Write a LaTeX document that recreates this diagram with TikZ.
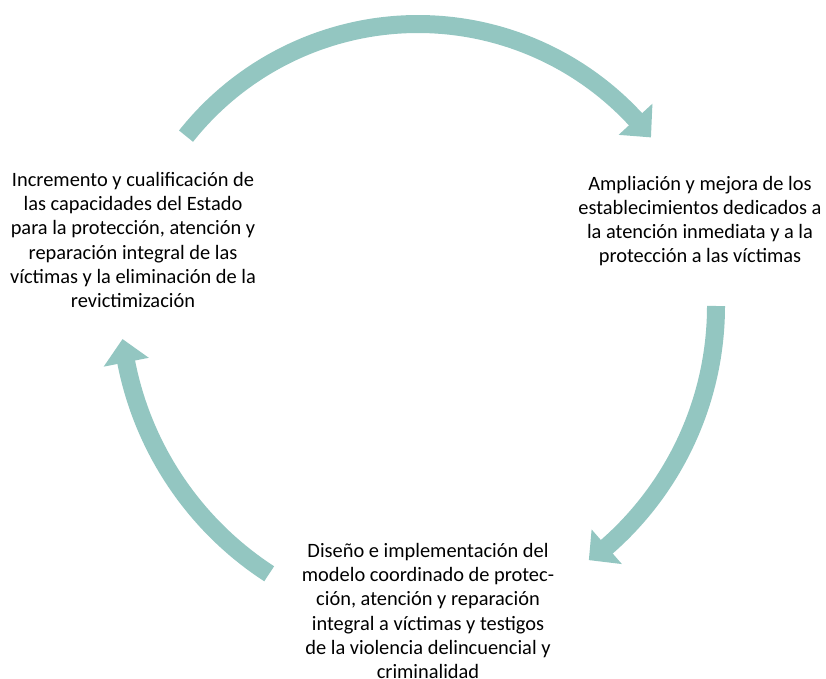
\documentclass[tikz,border=0pt]{standalone}
\usepackage{fontspec}
\setmainfont{Carlito}
\definecolor{arrowteal}{RGB}{147,198,193}
\begin{document}
\begin{tikzpicture}[x=1pt,y=1pt,
  shaft/.style={draw=arrowteal, line width=18pt},
  head/.style={fill=arrowteal, draw=none},
  label/.style={align=center, font=\fontsize{20.4}{24.2}\selectfont, inner sep=0pt}]
\useasboundingbox (0,0) rectangle (826,678);
% centres of the three arcs
\coordinate (c1) at (418,358);
\coordinate (c2) at (396,372);
\coordinate (c3) at (447.5,378.8);
% top arrow
\draw[shaft] ([shift={(141.6:296)}]c1) arc[start angle=141.6, end angle=42.4, radius=296];
\fill[head] ([shift={(42.7:319)}]c1) -- ([shift={(38.1:296)}]c1) -- ([shift={(42.7:273)}]c1) -- cycle;
% right arrow
\draw[shaft] ([shift={(0:320)}]c2) arc[start angle=0, end angle=-49.1, radius=320];
\fill[head] ([shift={(-48.8:343)}]c2) -- ([shift={(-52.8:319)}]c2) -- ([shift={(-48.8:297)}]c2) -- cycle;
% left arrow
\draw[shaft] ([shift={(237:327.4)}]c3) arc[start angle=237, end angle=190.8, radius=327.4];
\fill[head] ([shift={(191.1:350.4)}]c3) -- ([shift={(187.0:327.4)}]c3) -- ([shift={(191.1:304.4)}]c3) -- cycle;
% texts
\node[label] (incr) at (133,438) {Incremento y cualificación de\\las capacidades del Estado\\para la protección, atención y\\reparación integral de las\\víctimas y la eliminación de la\\revictimización};
\node[label] (ampl) at (700,457) {Ampliación y mejora de los\\establecimientos dedicados a\\la atención inmediata y a la\\protección a las víctimas};
\node[label] (dise) at (428,67) {Diseño e implementación del\\modelo coordinado de protec-\\ción, atención y reparación\\integral a víctimas y testigos\\de la violencia delincuencial y\\criminalidad};
\end{tikzpicture}
\end{document}
